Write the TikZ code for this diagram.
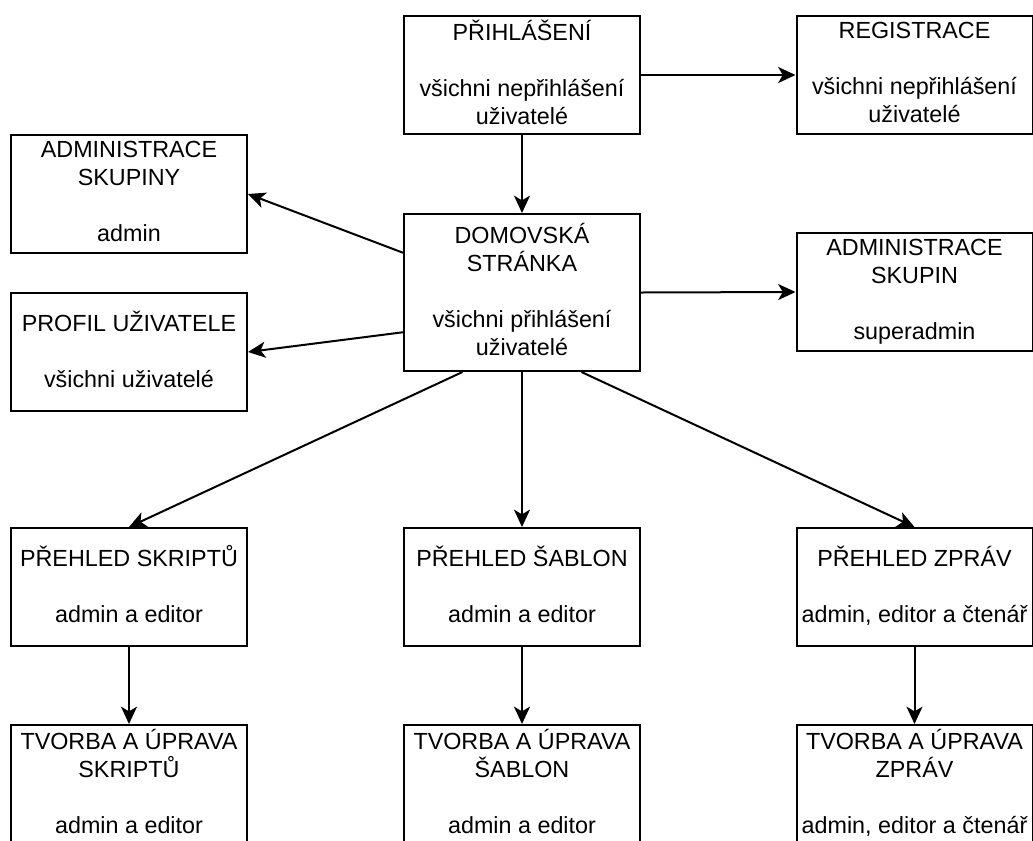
\documentclass[tikz,border=0pt]{standalone}
\usepackage{fontspec}
\setmainfont{Liberation Sans}
\usetikzlibrary{arrows.meta,calc}

% line box of 1.2em: ascent part and descent part of one text line
\newcommand{\linebox}{\rule[-4.4pt]{0pt}{21pt}}

\begin{document}
\begin{tikzpicture}[
    x=0.75pt, y=-0.75pt,
    page/.style={draw=black, line width=1.5pt, fill=white, rectangle,
      minimum width=177pt, minimum height=88.5pt, inner sep=0pt,
      align=center, font=\fontsize{17.5}{21}\selectfont,
      execute at begin node=\linebox, execute at end node=\linebox},
    tallpage/.style={page, minimum height=117.75pt},
    link/.style={draw=black, line width=1.5pt,
      -{Stealth[length=13pt, width=12pt, inset=3.5pt]}}
  ]
  \path[use as bounding box, clip] (0,0) rectangle (1033,840);

  % top row
  \node[page] (login) at (522,75) {PŘIHLÁŠENÍ\\[21pt]všichni nepřihlášení\\uživatelé};
  \node[page] (reg) at (914.5,75) {REGISTRACE\\[21pt]všichni nepřihlášení\\uživatelé};

  % home page and its side pages
  \node[tallpage] (home) at (522,292.5) {DOMOVSKÁ\\STRÁNKA\\[21pt]všichni přihlášení\\uživatelé};
  \node[page] (grpadmin) at (129,194) {ADMINISTRACE\\SKUPINY\\[21pt]admin};
  \node[page] (profile) at (129,352) {PROFIL UŽIVATELE\\[21pt]všichni uživatelé};
  \node[page] (alladmin) at (914.5,292) {ADMINISTRACE\\SKUPIN\\[21pt]superadmin};

  % overviews
  \node[page] (scripts) at (129,587) {PŘEHLED SKRIPTŮ\\[21pt]admin a editor};
  \node[page] (templates) at (522,587) {PŘEHLED ŠABLON\\[21pt]admin a editor};
  \node[page] (reports) at (914.5,587) {PŘEHLED ZPRÁV\\[21pt]admin, editor a čtenář};

  % editors
  \node[page] (editscripts) at (129,784) {TVORBA A ÚPRAVA\\SKRIPTŮ\\[21pt]admin a editor};
  \node[page] (edittemplates) at (522,784) {TVORBA A ÚPRAVA\\ŠABLON\\[21pt]admin a editor};
  \node[page] (editreports) at (914.5,784) {TVORBA A ÚPRAVA\\ZPRÁV\\[21pt]admin, editor a čtenář};

  % connections
  \draw[link] (login.south) -- (home.north);
  \draw[link] (login.east) -- (reg.west);
  \draw[link] ($(home.north west)!0.25!(home.south west)$) -- (grpadmin.east);
  \draw[link] ($(home.north west)!0.75!(home.south west)$) -- (profile.east);
  \draw[link] (home.east) -- (alladmin.west);
  \draw[link] ($(home.south west)!0.25!(home.south east)$) -- (scripts.north);
  \draw[link] (home.south) -- (templates.north);
  \draw[link] ($(home.south west)!0.75!(home.south east)$) -- (reports.north);
  \draw[link] (scripts.south) -- (editscripts.north);
  \draw[link] (templates.south) -- (edittemplates.north);
  \draw[link] (reports.south) -- (editreports.north);
\end{tikzpicture}
\end{document}
